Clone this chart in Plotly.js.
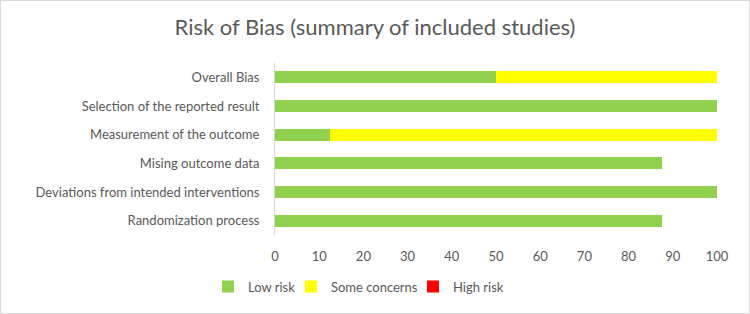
<!DOCTYPE html>
<html><head><meta charset="utf-8">
<script src="https://cdn.plot.ly/plotly-3.0.1.min.js"></script>
<style>
html,body{margin:0;padding:0;background:#fff;}
#wrap{width:750px;height:314px;box-sizing:border-box;border:1px solid #d9d9d9;}
#chart{width:748px;height:312px;}
</style></head>
<body><div id="wrap"><div id="chart"></div></div>
<script>
const categories = ["Randomization process","Deviations from intended interventions","Mising outcome data","Measurement of the outcome","Selection of the reported result","Overall Bias"];
const lowRisk = [87.5, 100, 87.5, 12.5, 100, 50];
const someConcerns = [0, 0, 0, 87.5, 0, 50];
const highRisk = [0, 0, 0, 0, 0, 0];
const seriesNames = ["Low risk","Some concerns","High risk"];
const colors = ["#92D050","#FFFF00","#FF0000"];
const xTicks = [0,10,20,30,40,50,60,70,80,90,100];

const legendIds = ['legend2','legend3','legend4'];
const legendX = [-0.1516, 0.036, 0.3122];
const series = [lowRisk, someConcerns, highRisk];
const traces = series.map((vals,i)=>({
  type:'bar', orientation:'h', y:categories, x:vals, name:seriesNames[i],
  marker:{color:colors[i]}, width:0.42, hoverinfo:'x+y', legend:legendIds[i], showlegend:true
}));
const font = {family:'Lato, "Open Sans", sans-serif', color:'#595959', size:13};
const layout = {
  width:748, height:312,
  barmode:'stack',
  paper_bgcolor:'#fff', plot_bgcolor:'#fff',
  margin:{l:274, r:32, t:62, b:78},
  font:font,
  title:{text:'Risk of Bias (summary of included studies)', x:0.5, xanchor:'center', y:0.915, yanchor:'middle',
         font:{family:'Lato, "Open Sans", sans-serif', size:22, color:'#595959'}},
  xaxis:{range:[0,100], tickvals:xTicks, ticktext:xTicks.map(String), showgrid:false, zeroline:false,
         showline:false, ticks:'', ticklen:0, ticklabelstandoff:12, tickfont:{size:13,color:'#595959'}, fixedrange:true},
  yaxis:{showgrid:false, zeroline:false, showline:true, linecolor:'#d9d9d9', linewidth:1, ticks:'',
         ticklabelstandoff:12, tickfont:{size:13,color:'#595959'}, fixedrange:true}
};
legendIds.forEach((id,i)=>{
  layout[id] = {orientation:'v', x:legendX[i], xanchor:'left', y:-0.3, yanchor:'middle',
                font:{size:13,color:'#595959'}, itemwidth:30, bgcolor:'rgba(0,0,0,0)', borderwidth:0};
});
Plotly.newPlot('chart', traces, layout, {displayModeBar:false, staticPlot:true});
</script></body></html>
